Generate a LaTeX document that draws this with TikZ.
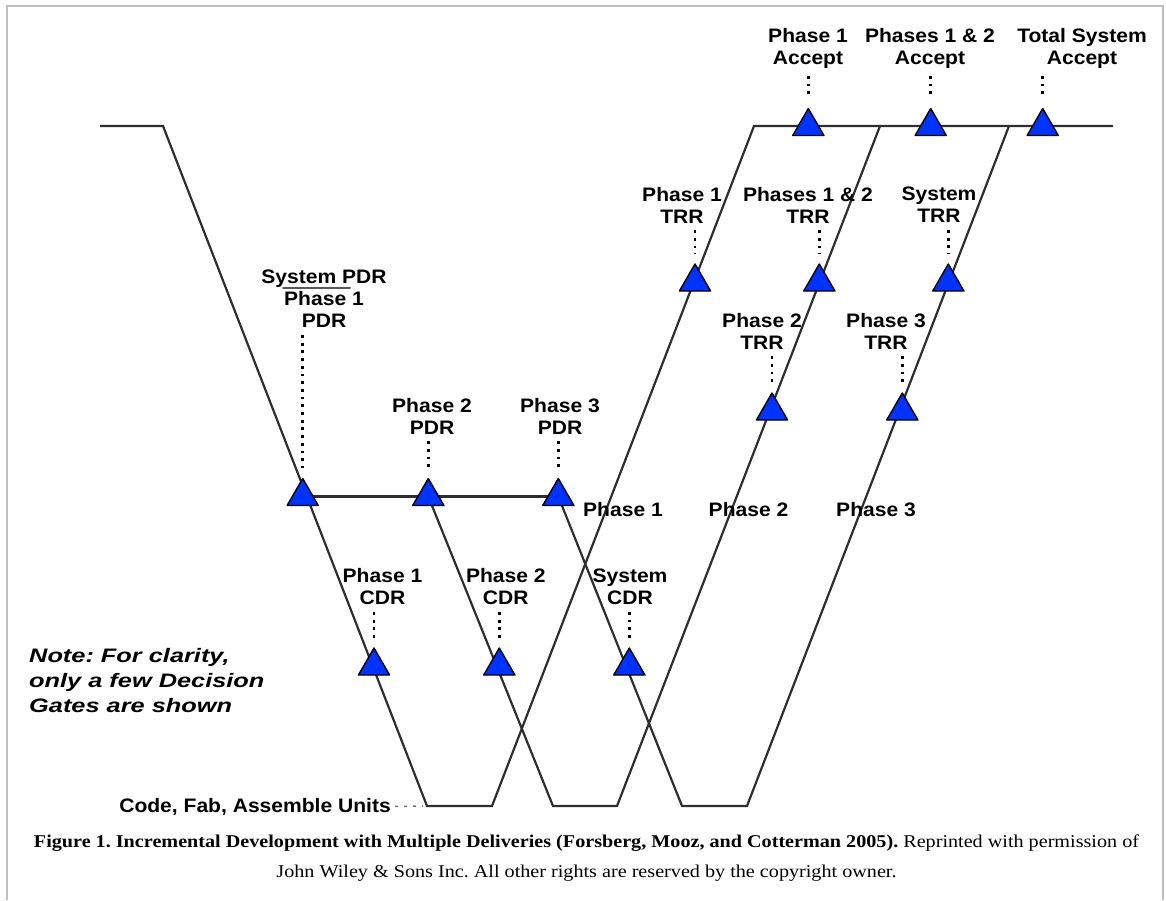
\documentclass[tikz,border=0pt]{standalone}
\usepackage{fontspec}
\setmainfont{Liberation Serif}
\newfontfamily\gatefont{Liberation Sans}[FakeStretch=1.08]
\newfontfamily\notefont{Liberation Sans}[FakeStretch=1.3]
\newfontfamily\capfont{Liberation Serif}[FakeStretch=1.12]
\usepackage{tikz}
\usetikzlibrary{shapes.geometric,backgrounds}
\definecolor{gateblue}{RGB}{0,51,255}
\frenchspacing

\begin{document}
\begin{tikzpicture}[x=1pt, y=-1pt, line cap=round, line join=round,
  every node/.style={font=\gatefont\bfseries\fontsize{19.5}{22}\selectfont, align=center, inner sep=1pt},
  gate/.style={regular polygon, regular polygon sides=3, minimum size=36pt, inner sep=0pt,
    fill=gateblue, draw=black, line width=1.4pt},
  track/.style={draw=black!82, line width=2.2pt},
  gatelink/.style={line width=2.8pt, line cap=butt, dash pattern=on 2.8pt off 4.9pt,
    shorten <=6pt, shorten >=9pt}]
  \useasboundingbox (0,0) rectangle (1166,900);

  % Corners of the three vees.
  \coordinate (Sys0) at (100,126);
  \coordinate (Sys1) at (163,126);
  \coordinate (U1a) at (427,806);
  \coordinate (U1b) at (492,806);
  \coordinate (U2a) at (553,806);
  \coordinate (U2b) at (617,806);
  \coordinate (U3a) at (682,806);
  \coordinate (U3b) at (747,806);
  \coordinate (Top1) at (754,126);
  \coordinate (Top2) at (880,126);
  \coordinate (Top3) at (1009,126);
  \coordinate (TopEnd) at (1113,126);

  % Decision gates.
  \foreach \g/\x/\y in {PDR1/302.7/496.5, PDR2/428.3/496.5, PDR3/558.3/496.5,
      CDR1/374/666, CDR2/499.3/666, CDRs/629.3/666,
      TRR2/772/411, TRR3/902.3/411,
      TRR1/695/282, TRR12/819.3/282, TRRs/948.3/282,
      Acc1/808.3/126.5, Acc12/930.7/126.5, AccT/1042.7/126.5} {
    \node[gate] (\g) at (\x,\y) {};
  }

  % Gate labels and their dotted leaders.
  \foreach \g/\x/\y/\txt in {PDR1/324/299/{System PDR\\Phase 1\\PDR},
      PDR2/432/416/{Phase 2\\PDR}, PDR3/560/416/{Phase 3\\PDR},
      CDR1/382.5/586.7/{Phase 1\\CDR}, CDR2/505.8/586.7/{Phase 2\\CDR},
      CDRs/630/586.7/{System\\CDR},
      TRR2/762/331/{Phase 2\\TRR}, TRR3/886/331/{Phase 3\\TRR},
      TRR1/682/205/{Phase 1\\TRR}, TRR12/808/205/{Phases 1 \& 2\\TRR},
      TRRs/939/205/{System\\TRR},
      Acc1/808/48.7/{Phase 1\\Accept}, Acc12/930/48.7/{Phases 1 \& 2\\Accept},
      AccT/1082/48.7/{Total System\\Accept}} {
    \node (l\g) at (\x,\y) {\txt};
    \draw[gatelink] (l\g.south -| \g.north) -- (\g.north);
  }
  \draw[black!65, line width=2pt] (283,287.5) -- (350,287.5);

  % Phase names.
  \node (ph1) at (623,510) {Phase 1};
  \node (ph2) at (748.5,510) {Phase 2};
  \node (ph3) at (876,510) {Phase 3};

  % Unit level.
  \node[anchor=east, font=\gatefont\bfseries\fontsize{19.5}{24}\selectfont] (units) at (392,806.5) {Code, Fab, Assemble Units};
  \draw[black!55, line width=1.5pt, line cap=butt, dash pattern=on 3pt off 6pt, shorten <=3pt, shorten >=4pt] (units.east) -- (U1a);

  % Note.
  \node[anchor=west, align=left, font=\notefont\bfseries\itshape\fontsize{19.5}{25}\selectfont] (note) at (28,681)
    {Note: For clarity,\\only a few Decision\\Gates are shown};

  % Caption.
  \node[font=\capfont\fontsize{18}{30}\selectfont] (caption) at (586.5,858)
    {\textbf{Figure 1. Incremental Development with Multiple Deliveries (Forsberg, Mooz, and Cotterman 2005).} Reprinted with permission of\\
     John Wiley \& Sons Inc. All other rights are reserved by the copyright owner.};

  % Vees and frame, behind the gates.
  \begin{scope}[on background layer]
    \draw[black!25, line width=1.5pt] (7,900) -- (7,6) -- (1163,6) -- (1163,900);
    \draw[track] (Sys0) -- (Sys1) -- (U1a) -- (U1b) -- (Top1) -- (TopEnd);
    \draw[track] (PDR1.center) -- (PDR3.center);
    \draw[track] (PDR2.center) -- (U2a) -- (U2b) -- (Top2);
    \draw[track] (PDR3.center) -- (U3a) -- (U3b) -- (Top3);
  \end{scope}
\end{tikzpicture}
\end{document}
